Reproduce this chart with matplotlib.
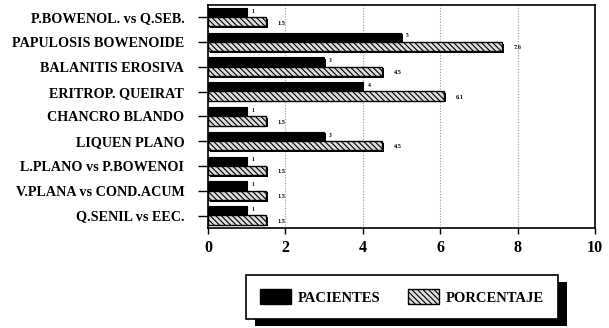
import matplotlib
matplotlib.use("Agg")
import matplotlib.pyplot as plt
import matplotlib.patheffects as pe
from matplotlib.patches import Rectangle, Patch

categories = ["P.BOWENOL. vs Q.SEB.", "PAPULOSIS BOWENOIDE", "BALANITIS EROSIVA",
              "ERITROP. QUEIRAT", "CHANCRO BLANDO", "LIQUEN PLANO",
              "L.PLANO vs P.BOWENOI", "V.PLANA vs COND.ACUM", "Q.SENIL vs EEC."]
pacientes = [1, 5, 3, 4, 1, 3, 1, 1, 1]
porcentaje = [1.5, 7.6, 4.5, 6.1, 1.5, 4.5, 1.5, 1.5, 1.5]
pac_labels = ["1", "5", "3", "4", "1", "3", "1", "1", "1"]
por_labels = ["1.5", "7.6", "4.5", "6.1", "1.5", "4.5", "1.5", "1.5", "1.5"]
xticks = [0, 2, 4, 6, 8, 10]

plt.rcParams["font.family"] = ["Liberation Serif", "DejaVu Serif"]
plt.rcParams["font.weight"] = "bold"
plt.rcParams["hatch.linewidth"] = 0.8

fig = plt.figure(figsize=(6.09, 3.28), dpi=100)
ax = fig.add_axes([0.3415, 0.305, 0.6355, 0.68])

ypos = list(range(len(categories)))
shadow = [pe.SimplePatchShadow(offset=(1.2, -1.2), shadow_rgbFace="black", alpha=1), pe.Normal()]
HATCH = "\\\\\\\\\\\\"

yp = [y - 0.17 for y in ypos]
yh = [y + 0.18 for y in ypos]
b1 = ax.barh(yp, pacientes, height=0.42, color="black", edgecolor="black", linewidth=0.8, zorder=3)
b2 = ax.barh(yh, porcentaje, height=0.38, color="#dddddd", edgecolor="black", hatch=HATCH,
             linewidth=1.0, zorder=4)
for r in list(b1) + list(b2):
    r.set_path_effects(shadow)

for y, v, t in zip(yp, pacientes, pac_labels):
    ax.text(v + 0.12, y - 0.08, t, fontsize=4, ha="left", va="center", fontweight="bold", zorder=5)
for y, v, t in zip(yh, porcentaje, por_labels):
    ax.text(v + 0.3, y + 0.05, t, fontsize=4.5, ha="left", va="center", fontweight="bold", zorder=5)

ax.set_xlim(0, 10)
ax.set_ylim(len(categories) - 0.5, -0.5)
ax.set_xticks(xticks)
ax.set_xticklabels([str(x) for x in xticks], fontsize=11.5, fontweight="bold")
ax.set_yticks(ypos)
ax.set_yticklabels(categories, fontsize=10.2, fontweight="bold")
ax.tick_params(axis="y", length=7, width=1, pad=10)
ax.tick_params(axis="x", length=4, width=1, pad=5)
for x in xticks[1:-1]:
    ax.axvline(x, color="#999999", linestyle=(0, (1, 1.5)), linewidth=0.8, zorder=1)
for s in ax.spines.values():
    s.set_linewidth(1.2)

handles = [Patch(facecolor="black", edgecolor="black", label="PACIENTES"),
           Patch(facecolor="#dddddd", edgecolor="black", hatch=HATCH, label="PORCENTAJE")]
leg = fig.legend(handles=handles, loc="center", bbox_to_anchor=(0.66, 0.094), ncol=2,
                 frameon=True, fancybox=False, edgecolor="black", framealpha=1,
                 prop={"size": 10.5, "weight": "bold"}, handlelength=2.1, handleheight=1.2,
                 columnspacing=1.9, borderpad=1.0, handletextpad=0.45, borderaxespad=0)
leg.get_frame().set_linewidth(1.2)
fig.canvas.draw()
bb = leg.get_window_extent().transformed(fig.transFigure.inverted())
sh = Rectangle((bb.x0 + 9 / 609, bb.y0 - 7 / 328), bb.width, bb.height,
               transform=fig.transFigure, facecolor="black", edgecolor="none", zorder=0)
fig.add_artist(sh)
leg.set_zorder(5)

fig.savefig("out.png", dpi=100)
